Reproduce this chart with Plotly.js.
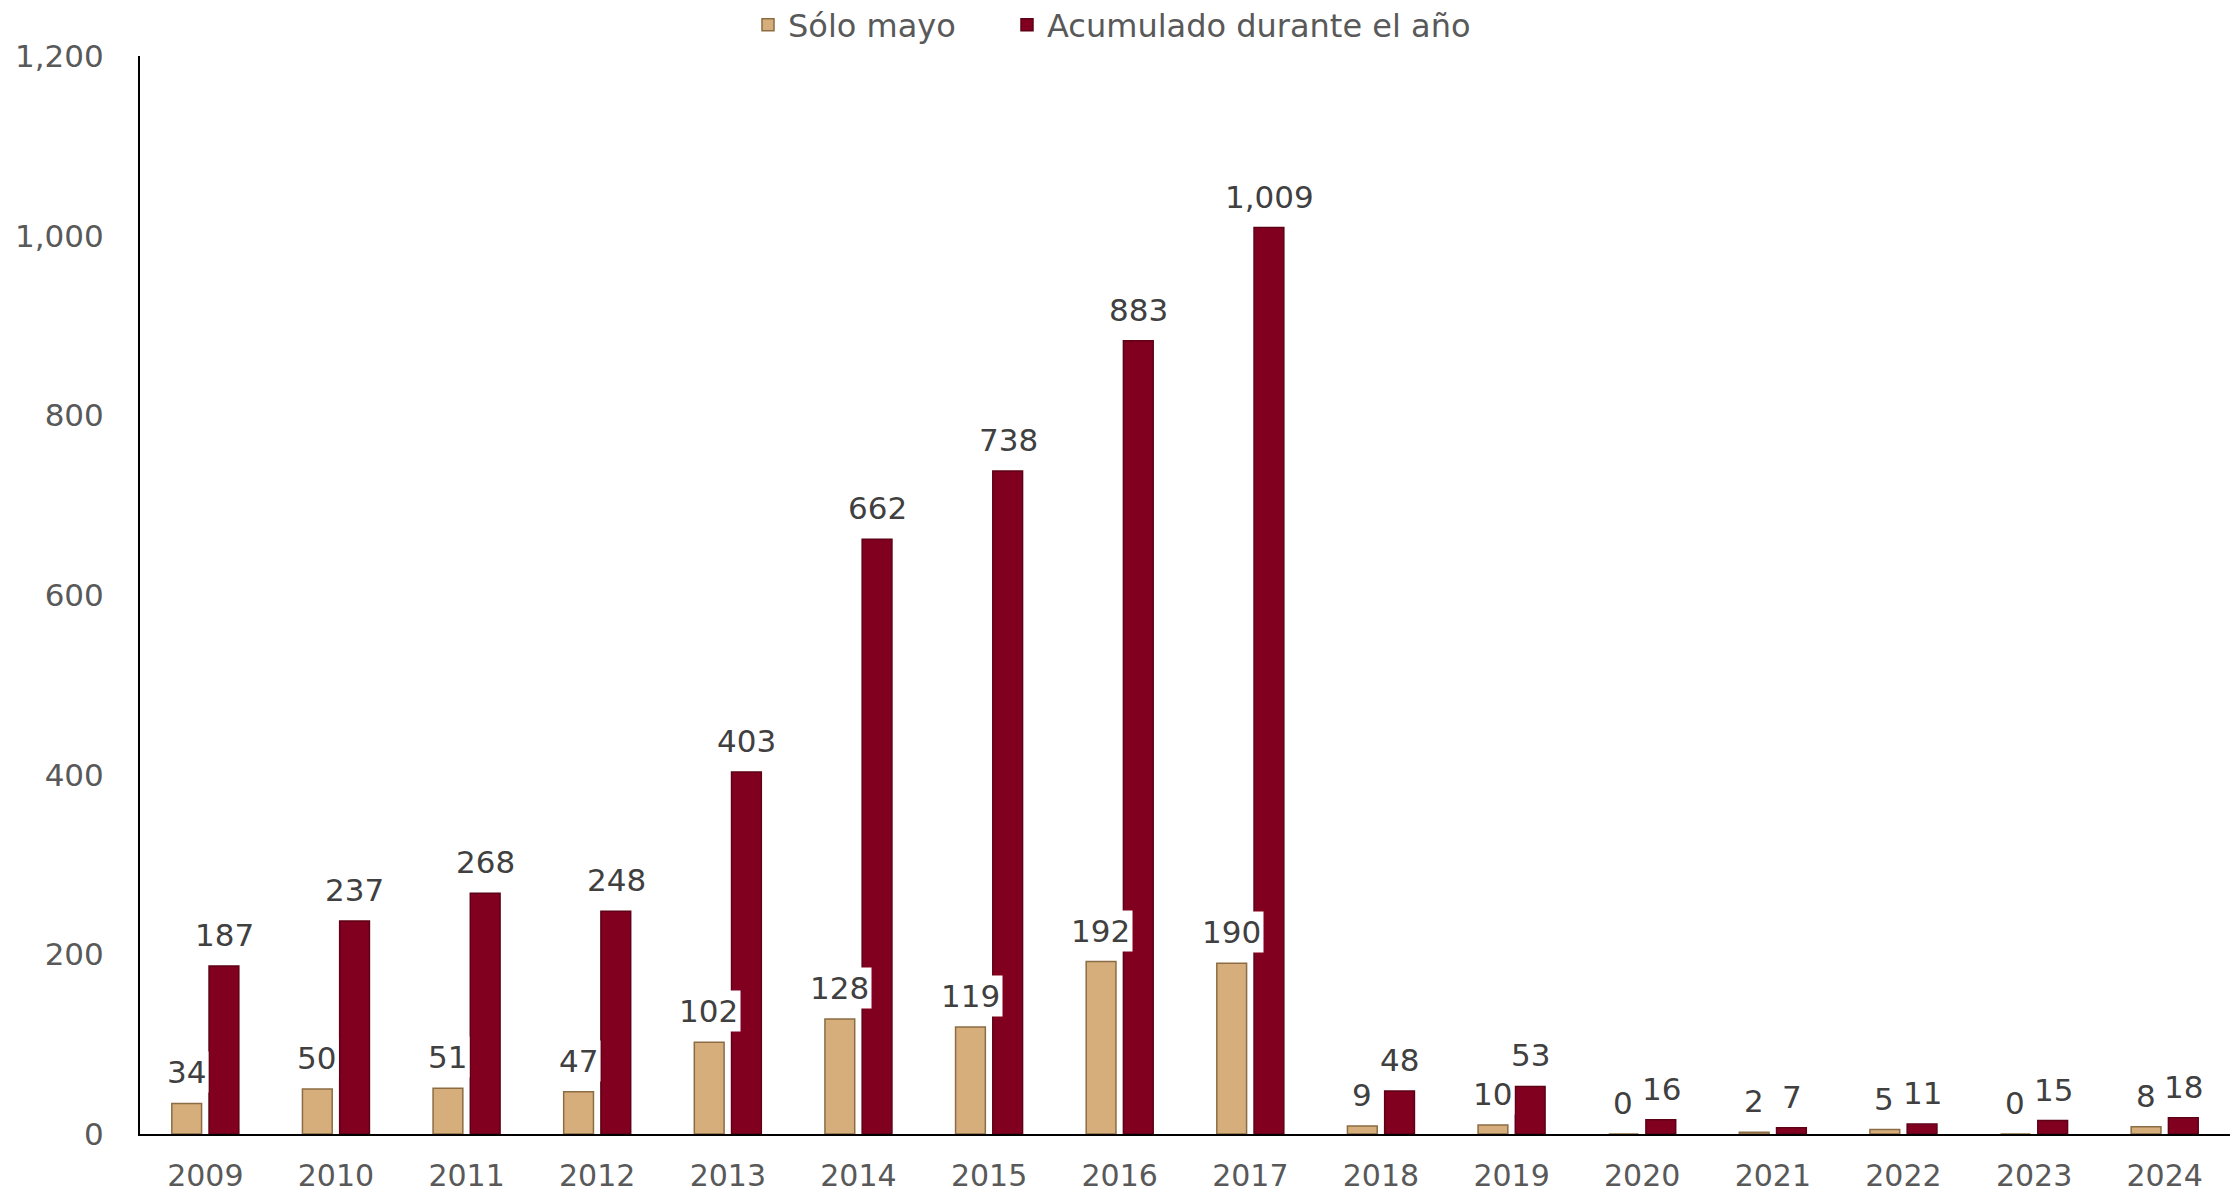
<!DOCTYPE html>
<html>
<head>
<meta charset="utf-8">
<script src="https://cdn.plot.ly/plotly-3.0.1.min.js"></script>
<style>html,body{margin:0;padding:0;background:#fff;}#chart{width:2237px;height:1192px;}</style>
</head>
<body>
<div id="chart"></div>
<script>
const years = ["2009","2010","2011","2012","2013","2014","2015","2016","2017","2018","2019","2020","2021","2022","2023","2024"];
const soloMayo = [34,50,51,47,102,128,119,192,190,9,10,0,2,5,0,8];
const acumulado = [187,237,268,248,403,662,738,883,1009,48,53,16,7,11,15,18];
const seriesNames = ["Sólo mayo","Acumulado durante el año"];
const yTicks = [0,200,400,600,800,1000,1200];

const FONT = "DejaVu Sans, Verdana, sans-serif";

const traces = [
  {
    type: "bar", name: seriesNames[0], x: years, y: soloMayo,
    marker: {color: "#D6AE7C", line: {color: "#8C6C44", width: 1.5}},
    legend: "legend",
    hoverinfo: "x+y"
  },
  {
    type: "bar", name: seriesNames[1], x: years, y: acumulado,
    marker: {color: "#82001F", line: {color: "#5E0016", width: 1.5}},
    legend: "legend2",
    hoverinfo: "x+y"
  }
];

const fmt = v => v.toLocaleString("en-US");
// annotation x given as category index (position on the category axis)
const mayoLabels = years.map((yr, i) => ({
  x: i, y: soloMayo[i], xref: "x", yref: "y",
  text: fmt(soloMayo[i]), showarrow: false,
  xshift: -19, yanchor: "bottom", yshift: 10,
  bgcolor: "#ffffff", borderpad: 2,
  font: {family: FONT, size: 31, color: "#404040"}
}));
const acumLabels = years.map((yr, i) => ({
  x: i, y: acumulado[i], xref: "x", yref: "y",
  text: fmt(acumulado[i]), showarrow: false,
  xshift: 19, yanchor: "bottom", yshift: 10,
  borderpad: 2,
  font: {family: FONT, size: 31, color: "#404040"}
}));

const legendBase = {
  orientation: "h", xref: "container", xanchor: "left",
  yref: "container", y: 0.979, yanchor: "middle",
  font: {family: FONT, size: 32, color: "#595959"},
  itemclick: false, bgcolor: "rgba(0,0,0,0)"
};

const layout = {
  width: 2237, height: 1192,
  paper_bgcolor: "#ffffff", plot_bgcolor: "#ffffff",
  margin: {l: 140, r: 7, t: 56, b: 58},
  font: {family: FONT, color: "#595959"},
  barmode: "group", bargap: 0.43, bargroupgap: 0.2,
  showlegend: true,
  legend: Object.assign({}, legendBase, {x: 748 / 2237}),
  legend2: Object.assign({}, legendBase, {x: 1007 / 2237}),
  xaxis: {
    type: "category", categoryorder: "array", categoryarray: years,
    range: [-0.5, years.length - 0.5],
    showline: true, linecolor: "#000000", linewidth: 2,
    ticks: "", showgrid: false, automargin: false,
    tickfont: {family: FONT, size: 30, color: "#595959"},
    ticklabelstandoff: 14
  },
  yaxis: {
    range: [0, 1200], tickvals: yTicks, tickformat: ",d",
    showline: true, linecolor: "#000000", linewidth: 2,
    ticks: "", showgrid: false, zeroline: false, automargin: false,
    tickfont: {family: FONT, size: 31, color: "#595959"},
    ticklabelstandoff: 28
  },
  annotations: mayoLabels.concat(acumLabels)
};

Plotly.newPlot("chart", traces, layout, {displayModeBar: false, staticPlot: true});
</script>
</body>
</html>
